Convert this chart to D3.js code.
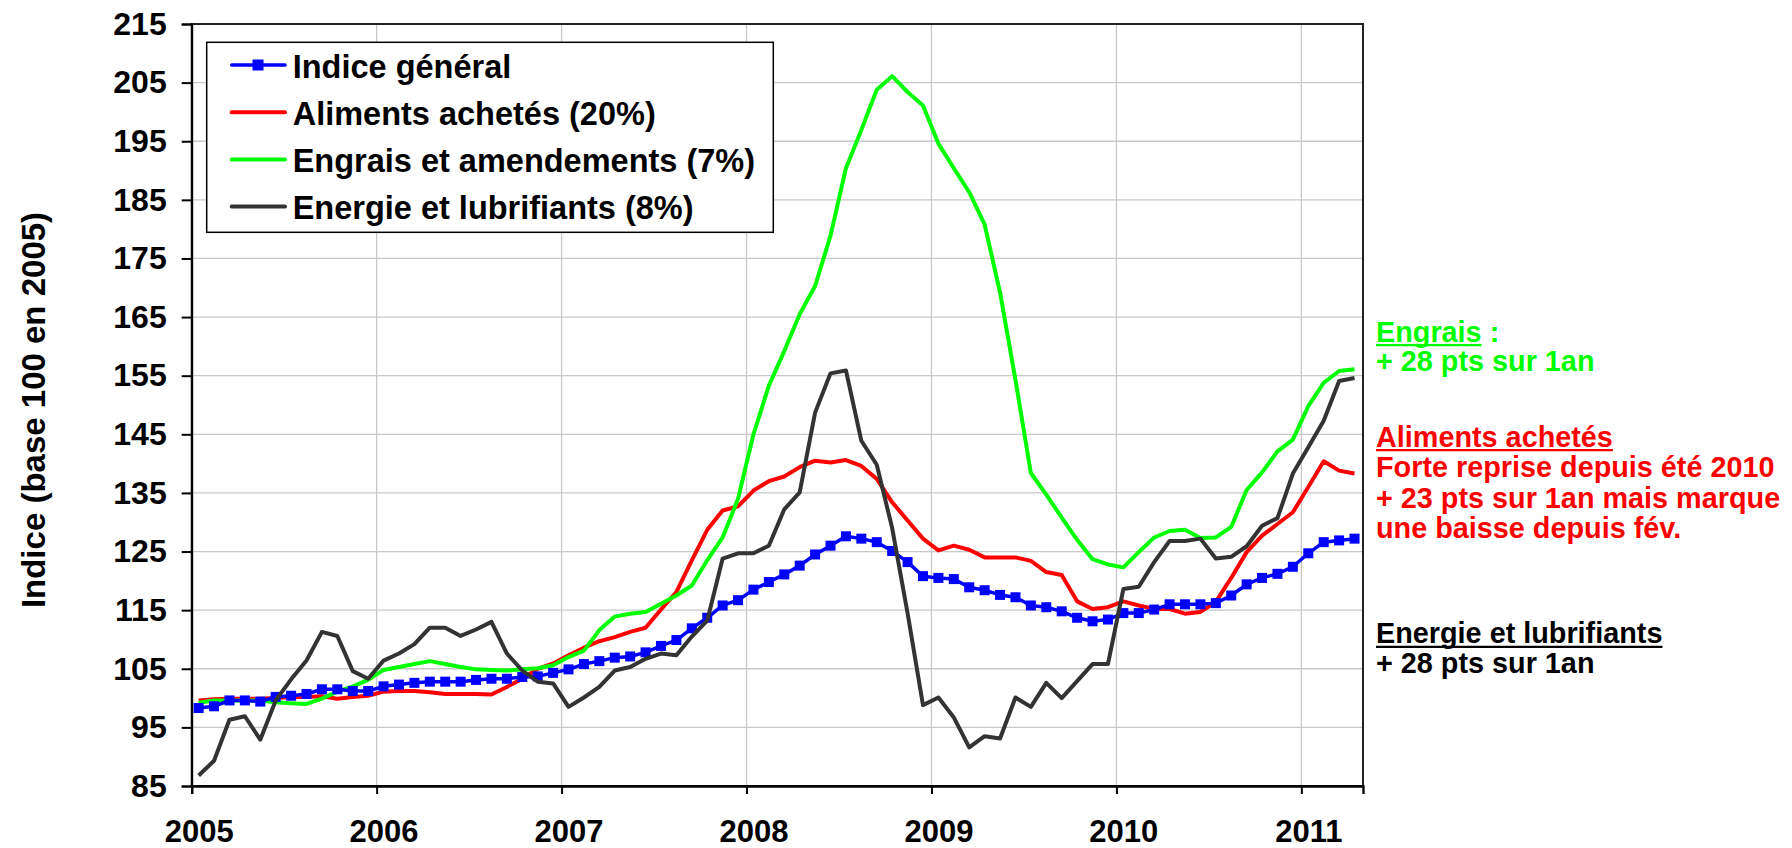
<!DOCTYPE html>
<html>
<head>
<meta charset="utf-8">
<script src="https://cdn.jsdelivr.net/npm/d3@7"></script>
<style>
  body { margin: 0; background: #fff; }
  text { font-family: "Liberation Sans", Arial, sans-serif; font-weight: bold; }
</style>
</head>
<body>
<div id="canvas"></div>
<script>
"use strict"

/* Configuration variables: drawing */
let svgWidth = 1792;
let svgHeight = 848;
let plotLeft = 191.7;
let plotRight = 1363;
let plotTop = 24;
let plotBottom = 786;

/* Data: monthly indices, Jan 2005 -> Apr 2011 (base 100 in 2005) */
let years = ["2005", "2006", "2007", "2008", "2009", "2010", "2011"];
let yTicks = [85, 95, 105, 115, 125, 135, 145, 155, 165, 175, 185, 195, 205, 215];

let indiceGeneral = [
    98.3, 98.6, 99.6, 99.6, 99.4, 100.2, 100.4, 100.7, 101.5, 101.5, 101.2, 101.2,
    102.0, 102.3, 102.6, 102.8, 102.8, 102.8, 103.1, 103.3, 103.3, 103.6, 103.7, 104.3,
    104.9, 105.8, 106.3, 106.9, 107.1, 107.8, 108.9, 109.9, 111.9, 113.7, 115.8, 116.7,
    118.5, 119.8, 121.1, 122.6, 124.5, 126.0, 127.6, 127.2, 126.6, 125.1, 123.2, 120.8,
    120.5, 120.3, 118.9, 118.4, 117.6, 117.2, 115.8, 115.5, 114.8, 113.7,
    113.1, 113.4, 114.5, 114.5, 115.1, 116.0, 116.0, 116.0, 116.2, 117.5, 119.4, 120.5,
    121.2, 122.4, 124.7, 126.6, 126.9, 127.2
];
let aliments = [
    99.6, 99.8, 99.9, 99.9, 99.9, 100.0, 100.2, 100.2, 100.3, 99.9, 100.2, 100.4,
    101.1, 101.2, 101.2, 101.0, 100.7, 100.7, 100.7, 100.6, 101.9, 103.3, 105.0, 105.9,
    107.3, 108.6, 109.7, 110.4, 111.3, 112.0, 115.1, 118.1, 123.5, 128.7, 132.0, 132.7,
    135.4, 137.0, 137.8, 139.4, 140.5, 140.2, 140.6, 139.6, 137.4, 133.4, 130.3, 127.2,
    125.2, 126.0, 125.3, 124.0, 124.0, 124.0, 123.4, 121.5, 121.0, 116.5,
    115.2, 115.5, 116.5, 115.8, 115.2, 115.2, 114.4, 114.7, 116.4, 120.5, 124.9, 127.7,
    129.7, 131.7, 136.0, 140.4, 138.8, 138.3
];
let engrais = [
    99.2, 99.6, 99.6, 99.6, 99.6, 99.3, 99.1, 99.0, 99.9, 101.1, 102.0, 103.1,
    104.8, 105.3, 105.8, 106.3, 105.8, 105.3, 104.9, 104.8, 104.7, 104.9, 105.1, 105.6,
    107.0, 108.1, 111.6, 113.9, 114.4, 114.7, 116.1, 117.5, 119.2, 123.5, 127.4, 134.0,
    145.0, 153.3, 159.2, 165.5, 170.3, 178.9, 190.4, 196.9, 203.8, 206.1, 203.4, 201.1,
    194.6, 190.4, 186.3, 180.8, 169.2, 154.3, 138.4, 134.7, 130.8, 127.0,
    123.7, 122.8, 122.3, 124.9, 127.4, 128.5, 128.7, 127.3, 127.4, 129.2, 135.5, 138.5,
    142.1, 144.1, 149.8, 153.8, 155.8, 156.1
];
let energie = [
    86.8, 89.3, 96.3, 96.9, 92.9, 99.6, 103.2, 106.4, 111.3, 110.6, 104.6, 103.3,
    106.4, 107.6, 109.2, 112.0, 112.0, 110.6, 111.7, 113.0, 107.6, 104.7, 102.8, 102.5,
    98.5, 100.1, 101.9, 104.7, 105.3, 106.7, 107.6, 107.3, 110.5, 113.2, 123.8, 124.7,
    124.7, 126.0, 132.2, 135.1, 148.7, 155.4, 155.9, 143.9, 139.8, 129.0, 114.5, 98.8,
    100.1, 96.7, 91.6, 93.5, 93.1, 100.1, 98.5, 102.6, 100.0, 102.9,
    105.8, 105.8, 118.6, 119.0, 123.2, 126.8, 126.8, 127.2, 123.8, 124.1, 125.9, 129.4,
    130.7, 138.3, 142.8, 147.3, 154.1, 154.6
];

let seriesNames = ["Indice général", "Aliments achetés (20%)", "Engrais et amendements (7%)", "Energie et lubrifiants (8%)"];
let seriesColors = ["#0000ff", "#ff0000", "#00ff00", "#333333"];

/* Create drawing canvas */
let svg = d3.select("#canvas")
    .append("svg")
    .attr("width", svgWidth)
    .attr("height", svgHeight);

let nMonths = indiceGeneral.length;
let x = d3.scaleLinear()
    .domain([0, nMonths])
    .range([plotLeft, plotRight]);
let y = d3.scaleLinear()
    .domain([85, 215])
    .range([plotBottom, plotTop]);

// points sit a bit inside each month slot
let slot = 0.45;

/* gridlines */
svg.append("g")
    .selectAll("line")
    .data(yTicks)
    .join("line")
    .attr("x1", plotLeft).attr("x2", plotRight)
    .attr("y1", d => y(d)).attr("y2", d => y(d))
    .attr("stroke", "#c8c8c8")
    .attr("stroke-width", 1.3);

svg.append("g")
    .selectAll("line")
    .data(years)
    .join("line")
    .attr("x1", (d, i) => x(i * 12)).attr("x2", (d, i) => x(i * 12))
    .attr("y1", plotTop).attr("y2", plotBottom)
    .attr("stroke", "#c8c8c8")
    .attr("stroke-width", 1.3);

/* frame */
svg.append("rect")
    .attr("x", plotLeft).attr("y", plotTop)
    .attr("width", plotRight - plotLeft)
    .attr("height", plotBottom - plotTop)
    .attr("fill", "none")
    .attr("stroke", "#222")
    .attr("stroke-width", 2);

/* y axis */
let yAxis = svg.append("g")
    .attr("transform", "translate(" + plotLeft + ",0)")
    .call(d3.axisLeft(y).tickValues(yTicks).tickSize(10).tickPadding(15));
yAxis.select(".domain").attr("stroke", "#000").attr("stroke-width", 2);
yAxis.selectAll(".tick line").attr("stroke", "#000").attr("stroke-width", 2);
yAxis.selectAll("text")
    .attr("font-size", 32)
    .attr("font-family", "'Liberation Sans', Arial, sans-serif")
    .attr("font-weight", "bold")
    .attr("fill", "#000");

/* x axis */
let xAxis = svg.append("g")
    .attr("transform", "translate(0," + plotBottom + ")")
    .call(d3.axisBottom(x)
        .tickValues(years.map((d, i) => i * 12))
        .tickFormat((d, i) => years[i])
        .tickSize(8)
        .tickPadding(26));
xAxis.select(".domain").attr("stroke", "#000").attr("stroke-width", 2.3);
xAxis.selectAll(".tick line").attr("stroke", "#000").attr("stroke-width", 2);
xAxis.selectAll("text")
    .attr("x", x(slot) - x(0))
    .attr("font-size", 31)
    .attr("font-family", "'Liberation Sans', Arial, sans-serif")
    .attr("font-weight", "bold")
    .attr("fill", "#000");

/* y axis title */
svg.append("text")
    .attr("transform", "translate(45,410) rotate(-90)")
    .attr("text-anchor", "middle")
    .attr("font-size", 33)
    .text("Indice (base 100 en 2005)");

/* lines */
let line = d3.line()
    .x((d, i) => x(i + slot))
    .y(d => y(d));

let drawOrder = [
    { values: aliments, color: seriesColors[1], width: 4 },
    { values: engrais, color: seriesColors[2], width: 4 },
    { values: indiceGeneral, color: seriesColors[0], width: 3.5 },
    { values: energie, color: seriesColors[3], width: 4 }
];

drawOrder.forEach(function (s) {
    svg.append("path")
        .datum(s.values)
        .attr("fill", "none")
        .attr("stroke", s.color)
        .attr("stroke-width", s.width)
        .attr("stroke-linejoin", "round")
        .attr("d", line);
    if (s.values === indiceGeneral) {
        svg.append("g")
            .selectAll("rect")
            .data(indiceGeneral)
            .join("rect")
            .attr("x", (d, i) => x(i + slot) - 5)
            .attr("y", d => y(d) - 5)
            .attr("width", 10)
            .attr("height", 10)
            .attr("fill", seriesColors[0]);
    }
});

/* legend */
let legend = svg.append("g");
legend.append("rect")
    .attr("x", 206.7).attr("y", 42.3)
    .attr("width", 566.6).attr("height", 190)
    .attr("fill", "#fff")
    .attr("stroke", "#000")
    .attr("stroke-width", 1.5);

let legendRows = legend.selectAll("g.row")
    .data(seriesNames)
    .join("g")
    .attr("class", "row")
    .attr("transform", (d, i) => "translate(0," + (65 + i * 47.2) + ")");

legendRows.append("line")
    .attr("x1", 231.7).attr("x2", 285)
    .attr("stroke", (d, i) => seriesColors[i])
    .attr("stroke-width", (d, i) => i === 0 ? 3.5 : 4)
    .attr("stroke-linecap", "round");

legendRows.filter((d, i) => i === 0)
    .append("rect")
    .attr("x", 252.5).attr("y", -5.5)
    .attr("width", 11).attr("height", 11)
    .attr("fill", seriesColors[0]);

legendRows.append("text")
    .attr("x", 292.7)
    .attr("y", 12.5)
    .attr("font-size", 32.5)
    .attr("fill", "#000")
    .text(d => d);

/* right-hand notes; the heading words are underlined with a drawn line */
let noteSize = 28.8;
let notes = [
    { y: 341.7, color: "#00ff00", text: "Engrais :", under: "Engrais" },
    { y: 370.7, color: "#00ff00", text: "+ 28 pts sur 1an" },
    { y: 446.7, color: "#ff0000", text: "Aliments achetés", under: "Aliments achetés" },
    { y: 477.3, color: "#ff0000", text: "Forte reprise depuis été 2010" },
    { y: 507.7, color: "#ff0000", text: "+ 23 pts sur 1an mais marque" },
    { y: 537.7, color: "#ff0000", text: "une baisse depuis fév." },
    { y: 643.3, color: "#000000", text: "Energie et lubrifiants", under: "Energie et lubrifiants" },
    { y: 673.3, color: "#000000", text: "+ 28 pts sur 1an" }
];

notes.forEach(function (n) {
    let t = svg.append("text")
        .attr("x", 1376)
        .attr("y", n.y)
        .attr("font-size", noteSize)
        .attr("fill", n.color)
        .text(n.under !== undefined ? n.under : n.text);
    if (n.under !== undefined) {
        let w = t.node().getComputedTextLength();
        t.text(n.text);
        svg.append("line")
            .attr("x1", 1376).attr("x2", 1376 + w)
            .attr("y1", n.y + 3.5).attr("y2", n.y + 3.5)
            .attr("stroke", n.color)
            .attr("stroke-width", 2.2);
    }
});
</script>
</body>
</html>
